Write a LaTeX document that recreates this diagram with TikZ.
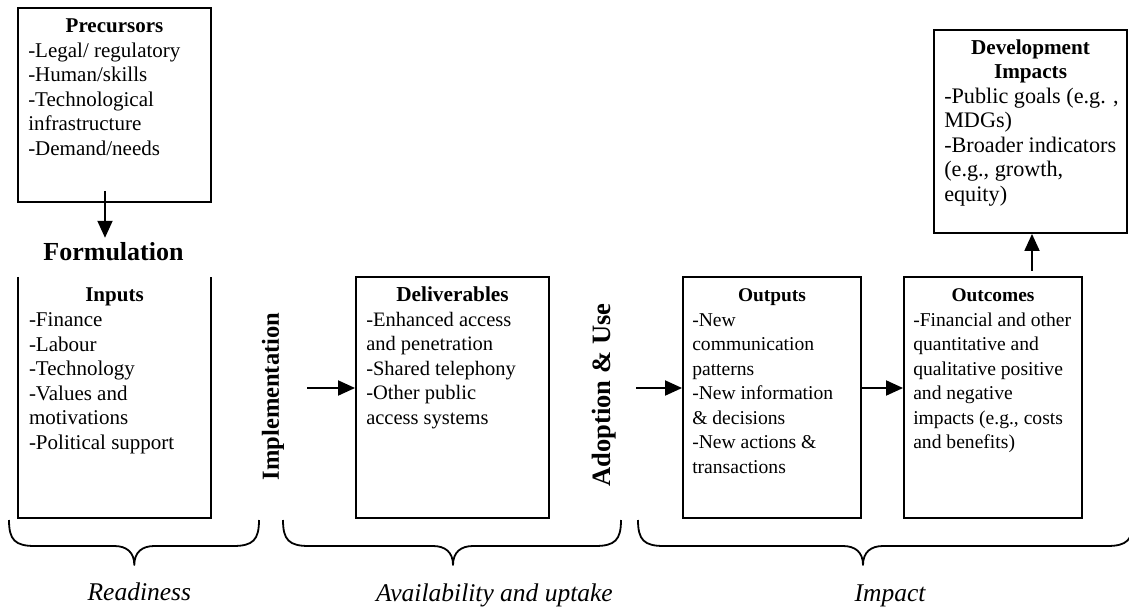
\documentclass[tikz,border=0pt]{standalone}
\usepackage{fontspec}
\setmainfont{Liberation Serif}
\usetikzlibrary{arrows.meta,calc}

% curly brace under a group of stages: left end, tip, right end
\newcommand{\curlybrace}[3]{%
  \draw[brc] (#1,520) .. controls (#1,540) and ({#1+6},546) .. ({#1+26},546)
    -- ({#2-20},546) .. controls ({#2-8},546) and (#2,552) .. (#2,565)
    .. controls (#2,552) and ({#2+8},546) .. ({#2+20},546)
    -- ({#3-26},546) .. controls ({#3-6},546) and (#3,540) .. (#3,520);}

\begin{document}
\begin{tikzpicture}[x=1pt,y=-1pt,
  box/.style={draw, line width=1.9pt, inner sep=0pt},
  frame/.style={inner sep=0pt},
  ttl/.style={font=\fontsize{#1}{24.5}\selectfont\bfseries, anchor=base, inner sep=0pt},
  ttl/.default=21,
  body/.style={font=\fontsize{#1}{24.5}\selectfont, anchor=base west, inner sep=0pt},
  body/.default=21,
  arr/.style={line width=1.9pt, -{Triangle[length=17pt,width=15pt]}},
  brc/.style={line width=1.8pt, line join=round},
  stage/.style={font=\bfseries, inner sep=0pt},
  phase/.style={font=\fontsize{25.5}{30}\selectfont\itshape, anchor=base, inner sep=0pt}]

\clip (0,0) rectangle (1129,608);
\fill[white] (0,0) rectangle (1129,608);

% ---- boxes ----
\node[box, minimum width=193pt, minimum height=194pt] (prec) at (114.5,105) {};
\node[frame, minimum width=193pt, minimum height=241pt] (inp) at (114.5,397.5) {};
\draw[line width=1.9pt] (inp.north west) -- (inp.south west) -- (inp.south east) -- (inp.north east);
\node[box, minimum width=193pt, minimum height=241pt] (deliv) at (452.5,397.5) {};
\node[box, minimum width=178pt, minimum height=241pt] (outp) at (772,397.5) {};
\node[box, minimum width=178pt, minimum height=241pt] (outc) at (993,397.5) {};
\node[box, minimum width=193pt, minimum height=203pt] (dev) at (1030.5,131.5) {};

% ---- box titles ----
\node[ttl] (prec-t) at ($(prec.north)+(0,25)$) {Precursors};
\node[ttl] (inp-t) at ($(inp.north)+(0,25)$) {Inputs};
\node[ttl=21.3] (deliv-t) at ($(deliv.north)+(0,25)$) {Deliverables};
\node[ttl=19.4] (outp-t) at ($(outp.north)+(0,25)$) {Outputs};
\node[ttl=19.4] (outc-t) at ($(outc.north)+(0,25)$) {Outcomes};
\node[ttl=21.2] (dev-t) at ($(dev.north)+(0,25)$) {\begin{tabular}[t]{@{}c@{}}Development\\Impacts\end{tabular}};

% ---- box bodies ----
\node[body] (prec-b) at ($(prec.north west)+(11,50)$) {\begin{tabular}[t]{@{}l@{}}
-Legal/ regulatory\\-Human/skills\\-Technological\\infrastructure\\-Demand/needs\end{tabular}};
\node[body] (inp-b) at ($(inp.north west)+(11,50)$) {\begin{tabular}[t]{@{}l@{}}
-Finance\\-Labour\\-Technology\\-Values and\\motivations\\-Political support\end{tabular}};
\node[body=20.5] (deliv-b) at ($(deliv.north west)+(11,50)$) {\begin{tabular}[t]{@{}l@{}}
-Enhanced access\\and penetration\\-Shared telephony\\-Other public\\access systems\end{tabular}};
\node[body=19.6] (outp-b) at ($(outp.north west)+(10,50)$) {\begin{tabular}[t]{@{}l@{}}
-New\\communication\\patterns\\-New information\\\& decisions\\-New actions \&\\transactions\end{tabular}};
\node[body=19.6] (outc-b) at ($(outc.north west)+(10,50)$) {\begin{tabular}[t]{@{}l@{}}
-Financial and other\\quantitative and\\qualitative positive\\and negative\\impacts (e.g., costs\\and benefits)\end{tabular}};
\node[body=22.2] (dev-b) at ($(dev.north west)+(11,74)$) {\begin{tabular}[t]{@{}l@{}}
-Public goals (e.g. ,\\MDGs)\\-Broader indicators\\(e.g., growth,\\equity)\end{tabular}};

% ---- stage labels ----
\node[stage, font=\fontsize{26}{30}\selectfont\bfseries, anchor=base] (form) at (113.5,260) {Formulation};
\node[stage, font=\fontsize{24.5}{30}\selectfont\bfseries, rotate=90] (impl) at (273,396.5) {Implementation};
\node[stage, font=\fontsize{26.5}{30}\selectfont\bfseries, rotate=90] (adopt) at (604,395) {Adoption \& Use};

% ---- connectors ----
\coordinate (prec-out) at ($(prec.south)+(-9.5,-12)$);
\draw[arr, shorten >=4pt] (prec-out) -- (prec-out |- form.north);
\coordinate (impl-out) at ($(deliv.west)+(-48,-9.5)$);
\draw[arr] (impl-out) -- (impl-out -| deliv.west);
\coordinate (adopt-out) at ($(outp.west)+(-46,-9.5)$);
\draw[arr] (adopt-out) -- (adopt-out -| outp.west);
\draw[arr] ($(outp.east)+(0,-9.5)$) -- ($(outc.west)+(0,-9.5)$);
\coordinate (outc-up) at ($(dev.south)+(1.5,37)$);
\draw[arr] (outc-up) -- (outc-up |- dev.south);

% ---- braces and phase labels ----
\curlybrace{9}{134.3}{259}
\curlybrace{283}{453}{621}
\curlybrace{638}{863}{1133}
\node[phase] (ready) at (139.3,600) {Readiness};
\node[phase] (avail) at (494.5,601) {Availability and uptake};
\node[phase] (impact) at (890,601) {Impact};
\end{tikzpicture}
\end{document}
